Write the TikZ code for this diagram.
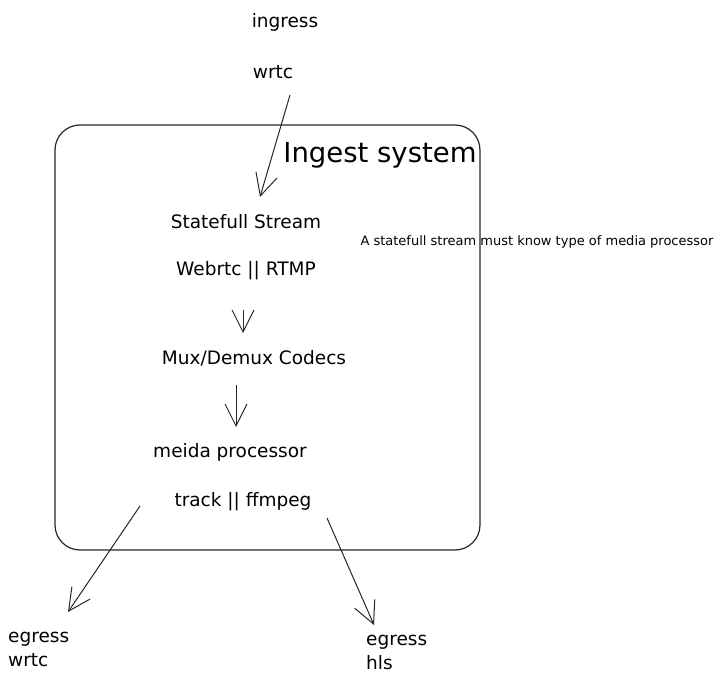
\documentclass[tikz,border=0pt]{standalone}
\usepackage{fontspec}
\setmainfont{DejaVu Sans}
\usetikzlibrary{arrows.meta}

\begin{document}
\begin{tikzpicture}[
  x=1pt,y=-1pt,
  lbl/.style={font=\fontsize{18.5}{22}\selectfont,inner sep=2pt},
  side/.style={font=\fontsize{18.5}{24}\selectfont,inner sep=2pt,align=left,anchor=west},
  title/.style={font=\fontsize{27.5}{30}\selectfont,inner sep=2pt},
  note/.style={font=\fontsize{13}{15}\selectfont,inner sep=1pt},
  frame/.style={draw=black!85,line width=1.2pt,rounded corners=25pt,minimum width=425pt,minimum height=425pt},
  arr/.style={-{Straight Barb[length=22pt,width=22pt]},draw=black!85,line width=1pt},
]
\useasboundingbox (0,0) rectangle (724,687);
\node[frame] (sys) at (267.5,337.5) {};
\node[title] (name) at (380,155) {Ingest system};
\node[lbl] (in) at (285,22) {ingress};
\node[lbl] (inw) at (273,72) {wrtc};
\node[lbl] (stat) at (246,222) {Statefull Stream};
\node[lbl] (proto) at (246,271) {Webrtc || RTMP};
\node[note] (info) at (537,242) {A statefull stream must know type of media processor};
\node[lbl] (mux) at (254,358) {Mux/Demux Codecs};
\node[lbl] (proc) at (230,452) {meida processor};
\node[lbl] (trk) at (243,502) {track || ffmpeg};
\node[side] (outw) at (6,649) {egress\\wrtc};
\node[side] (outh) at (364,652) {egress\\hls};
\draw[arr] ([shift={(17,23)}]inw.center) -- ([shift={(14,-25)}]stat.center);
\draw[arr] ([shift={(-3,39)}]proto.center) -- ([shift={(-11,-25)}]mux.center);
\draw[arr] ([shift={(-18,27)}]mux.center) -- ([shift={(6,-25)}]proc.center);
\draw[arr] ([shift={(-103,4)}]trk.center) -- ([shift={(62,-37)}]outw.west);
\draw[arr] ([shift={(84,16)}]trk.center) -- ([shift={(10,-27)}]outh.west);
\end{tikzpicture}
\end{document}
